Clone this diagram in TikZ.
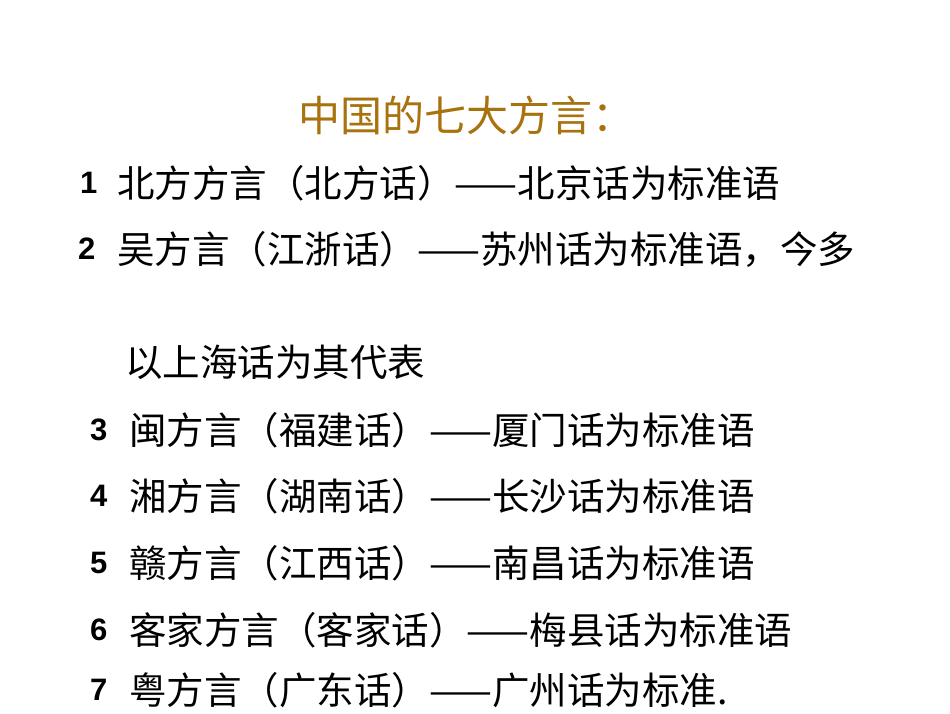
\documentclass[tikz,border=0pt]{standalone}
\usepackage{fontspec}
\setmainfont{Noto Sans CJK SC}
\newfontfamily\numfont{Liberation Sans}
\definecolor{titlecol}{HTML}{A8720E}
\begin{document}
\begin{tikzpicture}[x=1pt,y=-1pt,
  line/.style={anchor=west,inner sep=0pt,font=\fontsize{37.5}{37.5}\selectfont},
  num/.style={anchor=west,inner sep=0pt,font=\numfont\bfseries\fontsize{31}{31}\selectfont}]
\useasboundingbox (0,0) rectangle (950,713);
\node[inner sep=0pt,text=titlecol,font=\fontsize{42}{42}\selectfont] (t) at (466,115) {中国的七大方言：};
\node[num] (n1) at (80,183) {1};
\node[line] (l1) at (117,183) {北方方言（北方话）——北京话为标准语};
\node[num] (n2) at (78,249) {2};
\node[line] (l2) at (117,249) {吴方言（江浙话）——苏州话为标准语，今多};
\node[line] (l2b) at (125,362) {以上海话为其代表};
\node[num] (n3) at (90,430) {3};
\node[line] (l3) at (129,430) {闽方言（福建话）——厦门话为标准语};
\node[num] (n4) at (90,496) {4};
\node[line] (l4) at (129,496) {湘方言（湖南话）——长沙话为标准语};
\node[num] (n5) at (90,563) {5};
\node[line] (l5) at (129,563) {赣方言（江西话）——南昌话为标准语};
\node[num] (n6) at (90,630) {6};
\node[line] (l6) at (129,630) {客家方言（客家话）——梅县话为标准语};
\node[num] (n7) at (90,690) {7};
\node[line] (l7) at (129,690) {粤方言（广东话）——广州话为标准.};
\end{tikzpicture}
\end{document}
